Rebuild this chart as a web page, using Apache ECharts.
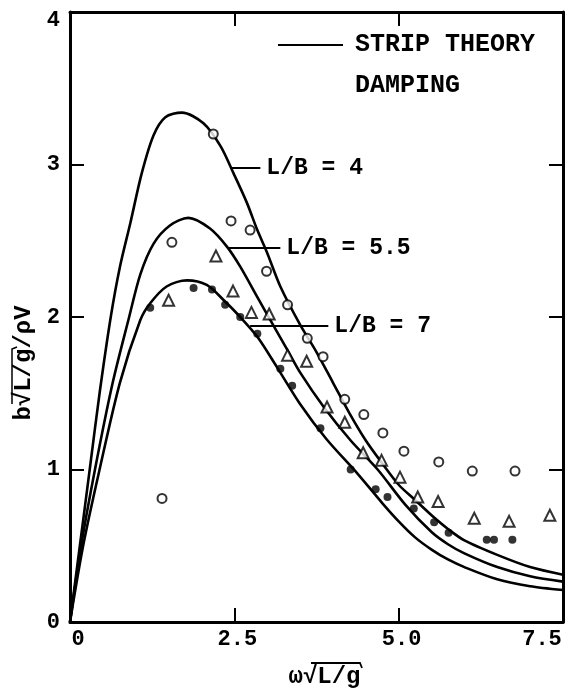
<!DOCTYPE html>
<html><head><meta charset="utf-8">
<script src="https://cdn.jsdelivr.net/npm/echarts@6/dist/echarts.min.js"></script>
<style>html,body{margin:0;padding:0;background:#fff}#c{width:569px;height:696px}</style>
</head><body><div id="c"></div>
<script>
// Strip theory damping curves
const curveX4  = [0, 0.15, 0.30, 0.45, 0.62, 0.76, 0.92, 1.09, 1.27, 1.45, 1.70, 2.03, 2.29, 2.49, 2.69, 2.85, 3.0, 3.2, 3.5, 3.75, 4.0, 4.25, 4.5, 4.75, 5.0, 5.25, 5.5, 5.75, 6.0, 6.5, 7.0, 7.5];
const curveY4  = [0, 0.5, 1.0, 1.5, 2.0, 2.33, 2.62, 2.94, 3.19, 3.31, 3.34, 3.27, 3.12, 2.94, 2.75, 2.57, 2.42, 2.2, 1.95, 1.77, 1.57, 1.37, 1.19, 1.04, 0.90, 0.80, 0.70, 0.61, 0.535, 0.44, 0.36, 0.31];
const curveX55 = [0, 0.17, 0.38, 0.65, 0.9, 1.07, 1.27, 1.52, 1.8, 2.13, 2.39, 2.59, 2.85, 3.1, 3.3, 3.51, 3.86, 4.27, 4.68, 5.1, 5.5, 5.75, 6.0, 6.5, 7.0, 7.5];
const curveY55 = [0, 0.5, 1.0, 1.57, 2.0, 2.28, 2.48, 2.6, 2.65, 2.58, 2.46, 2.33, 2.13, 1.94, 1.79, 1.63, 1.41, 1.19, 1.0, 0.77, 0.59, 0.51, 0.45, 0.36, 0.30, 0.265];
const curveX7  = [0, 0.2, 0.45, 0.76, 1.07, 1.22, 1.47, 1.78, 2.08, 2.34, 2.59, 2.85, 3.15, 3.5, 3.9, 4.37, 4.75, 5.0, 5.25, 5.5, 5.75, 6.0, 6.5, 7.0, 7.5];
const curveY7  = [0, 0.5, 1.0, 1.57, 1.98, 2.09, 2.2, 2.24, 2.21, 2.11, 2.0, 1.87, 1.67, 1.43, 1.2, 0.975, 0.78, 0.66, 0.555, 0.475, 0.41, 0.36, 0.28, 0.235, 0.21];

// Experimental points
const circlesX   = [1.40, 1.55, 2.18, 2.45, 2.74, 2.99, 3.31, 3.61, 3.85, 4.18, 4.47, 4.76, 5.08, 5.61, 6.12, 6.77];
const circlesY   = [0.81, 2.49, 3.20, 2.63, 2.57, 2.30, 2.08, 1.86, 1.74, 1.46, 1.36, 1.24, 1.12, 1.05, 0.99, 0.99];
const trianglesX = [1.50, 2.22, 2.48, 2.76, 3.03, 3.31, 3.60, 3.91, 4.18, 4.46, 4.74, 5.02, 5.29, 5.60, 6.15, 6.68, 7.30];
const trianglesY = [2.11, 2.40, 2.17, 2.03, 2.02, 1.75, 1.71, 1.41, 1.31, 1.11, 1.06, 0.95, 0.82, 0.79, 0.68, 0.66, 0.70];
const dotsX      = [1.22, 1.88, 2.16, 2.36, 2.59, 2.85, 3.20, 3.38, 3.81, 4.27, 4.65, 4.83, 5.23, 5.54, 5.76, 6.34, 6.45, 6.73];
const dotsY      = [2.06, 2.19, 2.18, 2.08, 2.00, 1.89, 1.66, 1.55, 1.27, 1.00, 0.87, 0.82, 0.745, 0.654, 0.585, 0.54, 0.54, 0.54];

// Ticks
const xTicks = [0, 2.5, 5.0, 7.5];
const xTickLabels = ['0', '2.5', '5.0', '7.5'];
const yTicks = [0, 1, 2, 3, 4];
const yTickLabels = ['0', '1', '2', '3', '4'];

// Curve annotations
const annoText = ['L/B = 4', 'L/B = 5.5', 'L/B = 7'];
const annoY  = [2.977, 2.454, 1.941];
const annoX0 = [2.465, 2.39, 2.74];
const annoX1 = [2.896, 3.2, 3.93];

const FONT = "'Liberation Mono', 'DejaVu Sans Mono', monospace";
function zip(a, b) { return a.map((v, i) => [v, b[i]]); }

const chart = echarts.init(document.getElementById('c'), null, {renderer: 'canvas'});

const labelStyle = {fontFamily: FONT, fontWeight: 'bold', fontSize: 22, color: '#000'};
const axisCommon = {
  type: 'value',
  axisLine: {show: true, onZero: false, lineStyle: {color: '#000', width: 3}},
  axisTick: {show: true, inside: true, length: 14, lineStyle: {color: '#000', width: 2}},
  splitLine: {show: false}
};

function curveSeries(name, xs, ys, idx) {
  return {
    name: name, type: 'line', data: zip(xs, ys), showSymbol: false,
    smooth: 0.3,
    lineStyle: {color: '#000', width: 2.6}, silent: true, z: 3,
    markLine: {
      symbol: 'none', silent: true, animation: false,
      lineStyle: {color: '#000', width: 2, type: 'solid'},
      label: {position: 'end', formatter: annoText[idx], distance: 6,
              fontFamily: FONT, fontWeight: 'bold', fontSize: 23, color: '#000'},
      data: [[{coord: [annoX0[idx], annoY[idx]]}, {coord: [annoX1[idx], annoY[idx]]}]]
    }
  };
}

chart.setOption({
  animation: false,
  backgroundColor: '#fff',
  grid: {left: 70, right: 6, top: 12, bottom: 74},
  xAxis: [
    Object.assign({}, axisCommon, {
      position: 'bottom', min: 0, max: 7.5, interval: 2.5,
      name: 'ω√L/g', nameLocation: 'middle', nameGap: 43,
      nameTextStyle: {fontFamily: FONT, fontWeight: 'bold', fontSize: 24, color: '#000', padding: [0, 0, 0, 16]},
      axisLabel: {
        margin: 6,
        formatter: function (v) {
          const i = xTicks.indexOf(v);
          const t = i >= 0 ? xTickLabels[i] : '';
          if (i === 0) return '{l|' + t + '}';
          if (i === xTicks.length - 1) return '{r|' + t + '}';
          return '{m|' + t + '}';
        },
        rich: {
          l: Object.assign({padding: [0, 0, 0, 16]}, labelStyle),
          m: Object.assign({padding: [0, 0, 0, 6]}, labelStyle),
          r: Object.assign({padding: [0, 42, 0, 0]}, labelStyle)
        }
      }
    }),
    Object.assign({}, axisCommon, {position: 'top', min: 0, max: 7.5, interval: 2.5, axisLabel: {show: false}})
  ],
  yAxis: [
    Object.assign({}, axisCommon, {
      position: 'left', min: 0, max: 4, interval: 1,
      name: 'b√L/g/ρV', nameLocation: 'middle', nameRotate: 90, nameGap: 30,
      nameTextStyle: {fontFamily: FONT, fontWeight: 'bold', fontSize: 24, color: '#000', padding: [0, 92, 0, 0]},
      axisLabel: {
        margin: 10,
        formatter: function (v) {
          const i = yTicks.indexOf(v);
          const t = i >= 0 ? yTickLabels[i] : '';
          return i === yTicks.length - 1 ? '{t|' + t + '}' : '{n|' + t + '}';
        },
        rich: {
          n: Object.assign({}, labelStyle),
          t: Object.assign({padding: [16, 0, 0, 0]}, labelStyle)
        }
      }
    }),
    Object.assign({}, axisCommon, {position: 'right', min: 0, max: 4, interval: 1, axisLabel: {show: false}})
  ],
  graphic: [
    {type: 'line', shape: {x1: 278, y1: 45, x2: 343, y2: 45}, style: {stroke: '#000', lineWidth: 2}},
    {type: 'text', left: 355, top: 32, style: {text: 'STRIP THEORY', font: 'bold 25px ' + FONT, fill: '#000'}},
    {type: 'text', left: 355, top: 73, style: {text: 'DAMPING', font: 'bold 25px ' + FONT, fill: '#000'}},
    {type: 'polyline', shape: {points: [[311, 663], [360, 663], [362, 668]]}, style: {stroke: '#000', lineWidth: 1.8, fill: null}},
    {type: 'polyline', shape: {points: [[12, 404], [12, 349], [17, 347]]}, style: {stroke: '#000', lineWidth: 1.5, fill: null}}
  ],
  series: [
    curveSeries('L/B = 4', curveX4, curveY4, 0),
    curveSeries('L/B = 5.5', curveX55, curveY55, 1),
    curveSeries('L/B = 7', curveX7, curveY7, 2),
    {name: 'L/B = 4 exp', type: 'scatter', data: zip(circlesX, circlesY), symbol: 'circle', symbolSize: 9,
     itemStyle: {color: '#fff', borderColor: '#000', borderWidth: 2}, z: 5},
    {name: 'L/B = 5.5 exp', type: 'scatter', data: zip(trianglesX, trianglesY), symbol: 'triangle', symbolSize: 11,
     itemStyle: {color: '#fff', borderColor: '#000', borderWidth: 2}, z: 5},
    {name: 'L/B = 7 exp', type: 'scatter', data: zip(dotsX, dotsY), symbol: 'circle', symbolSize: 8,
     itemStyle: {color: '#000'}, z: 5}
  ]
});
</script></body></html>
